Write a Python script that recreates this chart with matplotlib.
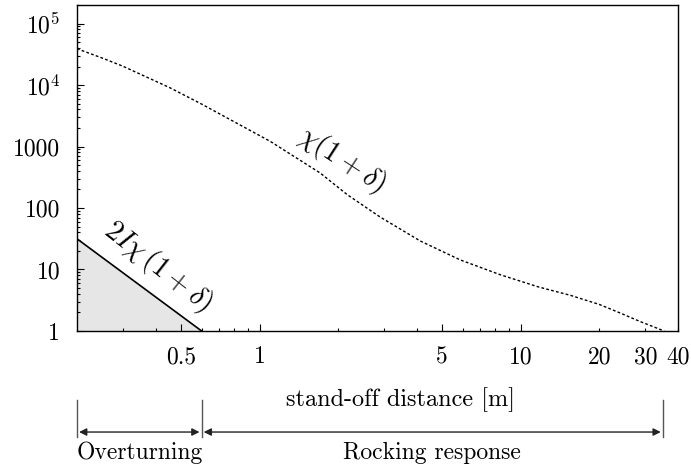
import numpy as np
import matplotlib
matplotlib.use("Agg")
import matplotlib.pyplot as plt
import matplotlib.transforms as mtransforms

# dotted curve: chi(1+delta) vs stand-off distance
distance = [0.2, 0.253, 0.3, 0.455, 0.6, 1.1, 1.708, 2.17, 2.9, 4.13, 5.87,
            8.36, 11.7, 15.5, 20, 24.1, 28.7, 35.4]
chi_curve = [39000, 26900, 20200, 8980, 4900, 1210, 370, 164, 71, 29, 14.3,
             8.2, 5.2, 3.8, 2.7, 1.95, 1.42, 1.0]

# overturning limit line 2I chi (1+delta)
overturn_x = [0.2, 0.6]
overturn_y = [31.6, 1.0]

# region limits below the axis
region_edges = [0.2, 0.6, 35.0]
region_names = ["Overturning", "Rocking response"]

xticks_major = [0.5, 1, 5, 10]
xticks_minor = [0.3, 0.4, 0.6, 0.7, 0.8, 0.9, 2, 3, 4, 6, 7, 8, 9, 20, 30, 40]
xlabels_minor = ["" if v not in (20, 30, 40) else str(v) for v in xticks_minor]
yticks = [1, 10, 100, 1000, 1e4, 1e5]
ylabels = ["1", "10", "100", "1000", r"$10^4$", r"$10^5$"]


def main():
    plt.rcParams["font.family"] = "serif"
    plt.rcParams["font.serif"] = ["cmr10"]
    plt.rcParams["mathtext.fontset"] = "cm"
    plt.rcParams["axes.unicode_minus"] = False

    fig = plt.figure(figsize=(6.91, 4.65), dpi=100)
    ax = fig.add_axes([0.1114, 0.2882, 0.8698, 0.701])

    ax.set_xscale("log")
    ax.set_yscale("log")
    ax.set_xlim(0.2, 40)
    ax.set_ylim(1, 2e5)

    ax.fill_between(overturn_x, overturn_y, 1, color="#e6e6e6", lw=0)
    ax.plot(overturn_x, overturn_y, color="black", lw=1.2)
    ax.plot(distance, chi_curve, color="black", lw=1.0, linestyle=(0, (2, 1.6)))

    ax.text(2.07, 610, r"$\chi(1+\delta)$", rotation=-33, fontsize=20.5,
            ha="center", va="center", rotation_mode="anchor")
    ax.text(0.41, 10.9, r"$2I\chi\,(1+\delta)$", rotation=-38, fontsize=20.5,
            ha="center", va="center", rotation_mode="anchor")

    ax.set_xticks(xticks_major, labels=[str(v) for v in xticks_major])
    ax.set_xticks(xticks_minor, labels=xlabels_minor, minor=True)
    ax.set_yticks(yticks, labels=ylabels)
    ax.set_yticks([m * d for d in yticks[:-1] for m in range(2, 10)] + [2e5], minor=True)
    ax.yaxis.set_minor_formatter(plt.NullFormatter())
    ax.tick_params(which="both", direction="in", top=False, right=False,
                   labelsize=17, width=0.8)
    ax.tick_params(which="major", length=5)
    ax.tick_params(which="minor", length=2.5)
    ax.tick_params(axis="x", which="both", pad=11)
    ax.tick_params(axis="y", which="both", pad=12)
    for s in ax.spines.values():
        s.set_linewidth(1.0)

    ax.set_xlabel("stand-off distance [m]", fontsize=17.5)
    ax.xaxis.set_label_coords(0.538, -0.172)

    # region markers below the axis
    trans = mtransforms.blended_transform_factory(ax.transData, ax.transAxes)
    for xe in region_edges:
        ax.plot([xe, xe], [-0.212, -0.325], transform=trans, clip_on=False,
                color="#555555", lw=1.0)
    for i, name in enumerate(region_names):
        x0, x1 = region_edges[i], region_edges[i + 1]
        ax.annotate("", xy=(x1, -0.31), xytext=(x0, -0.31), xycoords=trans,
                    textcoords=trans, annotation_clip=False,
                    arrowprops=dict(arrowstyle="<|-|>", color="#222222", lw=1.0,
                                    shrinkA=1.5, shrinkB=1.5, mutation_scale=11))
        ax.text(np.sqrt(x0 * x1), -0.374, name, transform=trans, fontsize=17,
                ha="center", va="center")

    fig.savefig("out.png", dpi=100)


if __name__ == "__main__":
    main()
